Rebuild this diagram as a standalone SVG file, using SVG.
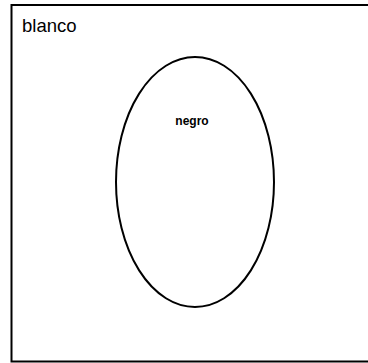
<svg xmlns="http://www.w3.org/2000/svg" width="368" height="363" viewBox="0 0 368 363">
<style>
.ln{fill:none;stroke:#000;stroke-width:2}
.t{font-family:"Liberation Sans",Arial,sans-serif;fill:#000}
</style>
<rect width="368" height="363" fill="#fff"/>
<g id="blanco">
<path class="ln" d="M372 5 L11.5 5 L11.5 361.5 L372 361.5"/>
<text class="t" x="22" y="32" font-size="18.5">blanco</text>
</g>
<g id="negro">
<ellipse class="ln" cx="195" cy="182" rx="79" ry="125"/>
<text class="t" x="192" y="125" font-size="12" font-weight="bold" text-anchor="middle">negro</text>
</g>
<g id="connectors"/>
</svg>
